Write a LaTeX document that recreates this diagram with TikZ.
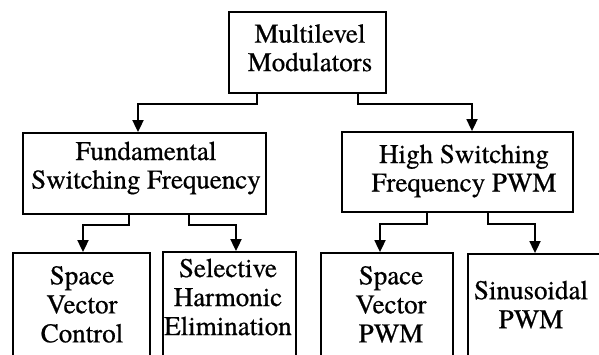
\documentclass[tikz,border=0pt]{standalone}
\usepackage{fontspec}
\newfontfamily\diagfont[FakeBold=0.6]{texgyretermes-regular.otf}
\usetikzlibrary{arrows.meta}
\tikzset{
  box/.style={draw, line width=1.8pt, inner sep=0pt, rectangle},
  lbl/.style={inner sep=0pt, align=center, font=\diagfont\fontsize{27}{28.5}\selectfont},
  lblb/.style={inner sep=0pt, align=center, font=\diagfont\fontsize{27}{29}\selectfont},
  arr/.style={line width=1.8pt, -{Triangle[width=11pt,length=12pt]}}
}
\begin{document}
\begin{tikzpicture}[x=1pt,y=-1pt]
\useasboundingbox (0,0) rectangle (599,355);
\clip (0,0) rectangle (599,355);
% boxes
\node[box, minimum width=157pt, minimum height=81pt] (top) at (307.5,52.5) {};
\node[box, minimum width=243pt, minimum height=81pt] (fund) at (144.5,173.5) {};
\node[box, minimum width=231pt, minimum height=80pt] (high) at (457.5,172) {};
\node[box, minimum width=137pt, minimum height=117pt] (svc) at (81.5,311.5) {};
\node[box, minimum width=133pt, minimum height=118pt] (she) at (229.5,311) {};
\node[box, minimum width=132pt, minimum height=117pt] (svp) at (387,311.5) {};
\node[box, minimum width=142pt, minimum height=116pt] (sin) at (539,312) {};
% labels
\node[lbl] (ttop) at (310,47.8) {Multilevel\\Modulators};
\node[lbl] (tfund) at (146,168) {Fundamental\\Switching Frequency};
\node[lbl] (thigh) at (464,171) {High Switching\\Frequency PWM};
\node[lblb] (tsvc) at (82,304.4) {Space\\Vector\\Control};
\node[lblb] (tshe) at (228,297) {Selective\\Harmonic\\Elimination};
\node[lblb] (tsvp) at (391,304.4) {Space\\Vector\\PWM};
\node[lblb] (tsin) at (531,304.6) {Sinusoidal\\PWM};
% connectors
\draw[arr] ([xshift=-50.5pt]top.south) -- ++(0,10) -| ([xshift=-6.5pt]fund.north);
\draw[arr] ([xshift=50.5pt]top.south) -- ++(0,10) -| ([xshift=14.5pt]high.north);
\draw[arr] ([xshift=-15.5pt]fund.south) -- ++(0,10) -| ([xshift=1.5pt]svc.north);
\draw[arr] ([xshift=44.5pt]fund.south) -- ++(0,10) -| ([xshift=6.5pt]she.north);
\draw[arr] ([xshift=-30.5pt]high.south) -- ++(0,11) -| ([xshift=-7pt]svp.north);
\draw[arr] ([xshift=30.5pt]high.south) -- ++(0,11) -| ([xshift=-4pt]sin.north);
\end{tikzpicture}
\end{document}
